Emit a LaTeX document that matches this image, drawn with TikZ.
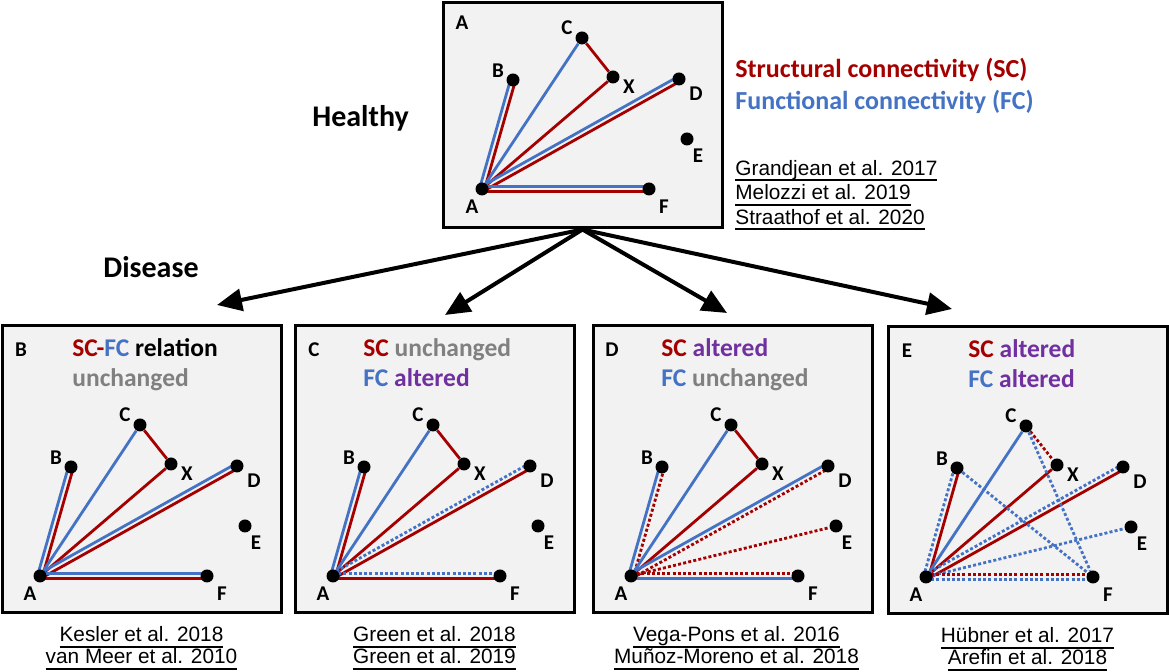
\documentclass[tikz,border=0pt]{standalone}
\usepackage{fontspec}
\setmainfont{Carlito}
\newfontfamily\reffont{Liberation Sans}
\usepackage{tikz}
\usetikzlibrary{arrows.meta, calc, positioning}

\definecolor{scred}{RGB}{165,0,0}
\definecolor{fcblue}{RGB}{68,114,196}
\definecolor{altpurple}{RGB}{112,48,160}
\definecolor{unchgray}{RGB}{128,128,128}
\definecolor{boxgray}{RGB}{242,242,242}

\pgfdeclarelayer{panels}
\pgfdeclarelayer{links}
\pgfsetlayers{panels,links,main}

% underlined reference line
\newsavebox\refbox
\newcommand\refline[1]{\sbox\refbox{#1}\rlap{\rule[-2.8pt]{\wd\refbox}{0.8pt}}\usebox\refbox}

\tikzset{
  netdot/.style={circle, fill=black, inner sep=0pt, minimum size=6.5pt},
  nodelbl/.style={font=\bfseries\fontsize{10.5}{12}\selectfont, inner sep=0pt},
  sc/.style={scred, line width=1.4pt},
  fc/.style={fcblue, line width=1.4pt},
  altered/.style={dash pattern=on 1.5pt off 1.1pt},
  panel/.style={draw, line width=1.5pt, fill=boxgray, minimum width=139.5pt, inner sep=0pt},
  paneltitle/.style={font=\bfseries\fontsize{12.75}{15}\selectfont, anchor=base west, inner sep=0pt},
  bigword/.style={font=\bfseries\fontsize{15}{18}\selectfont, anchor=base west, inner sep=0pt},
  legend/.style={font=\bfseries\fontsize{13}{16}\selectfont, anchor=base west, inner sep=0pt},
  refs/.style={font=\reffont\fontsize{10.4}{11}\selectfont, align=center, inner sep=0pt},
  branch/.style={line width=2pt, -{Triangle[length=12.5pt,width=11pt]}},
}

% two parallel links, #1 left of #3->#4, #2 right of it
\newcommand\twin[4]{%
  \draw[#1] ($(#3)!1.25pt!90:(#4)$) -- ($(#4)!1.25pt!-90:(#3)$);
  \draw[#2] ($(#3)!1.25pt!-90:(#4)$) -- ($(#4)!1.25pt!90:(#3)$);
}

% the seven regions of one network, names prefixed by #1
\newcommand\netdots[1]{%
  \node[netdot, label={[nodelbl,xshift=-5pt,yshift=-9pt]center:A}] (#1A) at (0,0) {};
  \node[netdot, label={[nodelbl,xshift=-7.5pt,yshift=4.5pt]center:B}] (#1B) at (31,-109) {};
  \node[netdot, label={[nodelbl,xshift=-7.5pt,yshift=5pt]center:C}] (#1C) at (100,-151) {};
  \node[netdot, label={[nodelbl,xshift=8pt,yshift=-5pt]center:X}] (#1X) at (131,-112) {};
  \node[netdot, label={[nodelbl,xshift=8.5pt,yshift=-7.5pt]center:D}] (#1D) at (197,-110) {};
  \node[netdot, label={[nodelbl,xshift=5.5pt,yshift=-8.5pt]center:E}] (#1E) at (205,-50) {};
  \node[netdot, label={[nodelbl,xshift=7.5pt,yshift=-9pt]center:F}] (#1F) at (167,0) {};
}

\begin{document}
\begin{tikzpicture}[x=0.5pt, y=-0.5pt]
\useasboundingbox (0,0) rectangle (1169,672);

% healthy
\begin{scope}[shift={(482,189)}]
  \begin{pgfonlayer}{panels}
    \node[panel, minimum height=112.5pt] (hbox) at (100.5,-73.5) {};
  \end{pgfonlayer}
  \node[nodelbl] (hlet) at (-20,-166) {A};
  \netdots{h}
  \begin{pgfonlayer}{links}
    \twin{fc}{sc}{hA}{hB}
    \draw[fc] (hA) -- (hC);
    \draw[sc] (hC) -- (hX);
    \draw[sc] (hA) -- (hX);
    \twin{fc}{sc}{hA}{hD}
    \twin{fc}{sc}{hA}{hF}
  \end{pgfonlayer}
\end{scope}

\node[bigword] (healthy) at (312,127) {Healthy};
\node[bigword] (disease) at (103,278) {Disease};
\node[legend, scred] (sclegend) at (735,78) {Structural connectivity (SC)};
\node[legend, fcblue] (fclegend) at (735,110) {Functional connectivity (FC)};
\node[refs, align=left, anchor=north west, font=\reffont\fontsize{10.4}{12.25}\selectfont] (hrefs) at (735,160)
  {\refline{Grandjean et al. 2017}\\\refline{Melozzi et al. 2019}\\\refline{Straathof et al. 2020}};

% B: relation unchanged
\begin{scope}[shift={(40,576)}]
  \begin{pgfonlayer}{panels}
    \node[panel, minimum height=143.5pt] (bbox) at (101.5,-106.5) {};
  \end{pgfonlayer}
  \node[nodelbl] (blet) at (-19,-226) {B};
  \node[paneltitle] (btitle) at (32,-219) {\textcolor{scred}{SC-}\textcolor{fcblue}{FC} relation};
  \node[paneltitle, unchgray] (bstate) at (32,-189) {unchanged};
  \netdots{b}
  \begin{pgfonlayer}{links}
    \twin{fc}{sc}{bA}{bB}
    \draw[fc] (bA) -- (bC);
    \draw[sc] (bC) -- (bX);
    \draw[sc] (bA) -- (bX);
    \twin{fc}{sc}{bA}{bD}
    \twin{fc}{sc}{bA}{bF}
  \end{pgfonlayer}
\end{scope}
\node[refs, below=6pt of bbox] (brefs) {\refline{Kesler et al. 2018}\\\refline{van Meer et al. 2010}};

% C: FC altered
\begin{scope}[shift={(333,576)}]
  \begin{pgfonlayer}{panels}
    \node[panel, minimum height=143.5pt] (cbox) at (101.5,-106.5) {};
  \end{pgfonlayer}
  \node[nodelbl] (clet) at (-19,-226) {C};
  \node[paneltitle] (ctitle) at (30,-219) {\textcolor{scred}{SC} \textcolor{unchgray}{unchanged}};
  \node[paneltitle] (cstate) at (30,-189) {\textcolor{fcblue}{FC} \textcolor{altpurple}{altered}};
  \netdots{c}
  \begin{pgfonlayer}{links}
    \twin{fc}{sc}{cA}{cB}
    \draw[fc] (cA) -- (cC);
    \draw[sc] (cC) -- (cX);
    \draw[sc] (cA) -- (cX);
    \twin{fc,altered}{sc}{cA}{cD}
    \twin{fc,altered}{sc}{cA}{cF}
  \end{pgfonlayer}
\end{scope}
\node[refs, below=6pt of cbox] (crefs) {\refline{Green et al. 2018}\\\refline{Green et al. 2019}};

% D: SC altered
\begin{scope}[shift={(631,576)}]
  \begin{pgfonlayer}{panels}
    \node[panel, minimum height=143.5pt] (dbox) at (101.5,-106.5) {};
  \end{pgfonlayer}
  \node[nodelbl] (dlet) at (-19,-226) {D};
  \node[paneltitle] (dtitle) at (30,-219) {\textcolor{scred}{SC} \textcolor{altpurple}{altered}};
  \node[paneltitle] (dstate) at (30,-189) {\textcolor{fcblue}{FC} \textcolor{unchgray}{unchanged}};
  \netdots{d}
  \begin{pgfonlayer}{links}
    \twin{fc}{sc,altered}{dA}{dB}
    \draw[fc] (dA) -- (dC);
    \draw[sc] (dC) -- (dX);
    \draw[sc] (dA) -- (dX);
    \twin{fc}{sc,altered}{dA}{dD}
    \draw[sc,altered] (dA) -- (dE);
    \twin{sc,altered}{fc}{dA}{dF}
  \end{pgfonlayer}
\end{scope}
\node[refs, below=6pt of dbox, xshift=2pt] (drefs) {\refline{Vega-Pons et al. 2016}\\\refline{Muñoz-Moreno et al. 2018}};

% E: both altered
\begin{scope}[shift={(926,577)}]
  \begin{pgfonlayer}{panels}
    \node[panel, minimum height=143.5pt] (ebox) at (101.5,-106.5) {};
  \end{pgfonlayer}
  \node[nodelbl] (elet) at (-19,-226) {E};
  \node[paneltitle] (etitle) at (42,-219) {\textcolor{scred}{SC} \textcolor{altpurple}{altered}};
  \node[paneltitle] (estate) at (42,-189) {\textcolor{fcblue}{FC} \textcolor{altpurple}{altered}};
  \netdots{e}
  \begin{pgfonlayer}{links}
    \twin{fc,altered}{sc}{eA}{eB}
    \draw[fc] (eA) -- (eC);
    \draw[sc,altered] (eC) -- (eX);
    \draw[sc] (eA) -- (eX);
    \twin{fc,altered}{sc}{eA}{eD}
    \draw[fc,altered] (eA) -- (eE);
    \twin{sc,altered}{fc,altered}{eA}{eF}
    \draw[fc,altered] (eB) -- (eF);
    \draw[fc,altered] (eC) -- (eF);
  \end{pgfonlayer}
\end{scope}
\node[refs, below=6pt of ebox] (erefs) {\refline{Hübner et al. 2017}\\\refline{Arefin et al. 2018}};

% arrows to the disease panels
\coordinate (toB) at (217,305);
\coordinate (toC) at (445,315);
\coordinate (toD) at (727,313);
\coordinate (toE) at (952,309);
\foreach \t in {toB,toC,toD,toE}
  \draw[branch] (hbox.south) -- (\t);
\end{tikzpicture}
\end{document}
